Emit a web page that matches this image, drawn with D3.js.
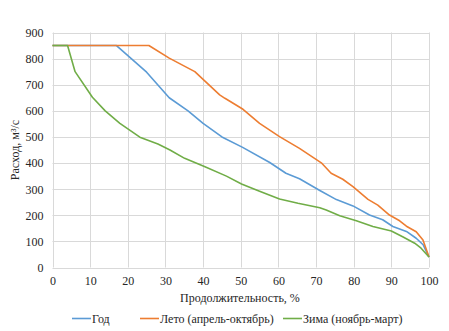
<!DOCTYPE html>
<html><head><meta charset="utf-8">
<script src="https://cdn.jsdelivr.net/npm/d3@7"></script>
<style>body{margin:0;background:#fff}svg{display:block}text{font-family:"Liberation Serif","Times New Roman",serif;fill:#262626}</style>
</head><body><svg id="c" width="449" height="331"></svg>
<script>
const xTicks = [0,10,20,30,40,50,60,70,80,90,100];
const yTicks = [0,100,200,300,400,500,600,700,800,900];
const seriesNames = ["Год","Лето (апрель-октябрь)","Зима (ноябрь-март)"];
const seriesColors = ["#5B9BD5","#ED7D31","#70AD47"];
const yearX = [0,17,25,31,36,40,45,50.5,57.7,62,65.6,71,75.4,79.8,84.2,87.7,90.4,94,96.6,98.5,100];
const yearY = [850,850,748,650,600,552,500,460,402,361,340,295,260,236,201,183,157,138,112,86,40];
const summerX = [0,25.6,31,37.8,44.4,45.8,50.6,55,60.3,65.6,71.4,74,77.1,79.8,83.8,86.4,89.5,92.2,94,96.6,98.4,100];
const summerY = [850,850,802,750,661,648,606,552,501,456,401,361,338,310,261,239,201,179,158,137,105,40];
const winterX = [0,4,6,10.6,14,17.9,23.2,28,31.2,35.1,40.5,46.2,50.2,55,60.3,65.2,71,72.7,76.3,80.7,85.1,90,93,96.2,97.9,100];
const winterY = [850,850,750,652,600,552,499,473,450,418,386,350,320,292,262,246,229,220,198,179,157,140,118,93,74,40];

const svg = d3.select("#c");
const x = d3.scaleLinear().domain([0,100]).range([52.5,429]);
const y = d3.scaleLinear().domain([0,900]).range([267.5,32.5]);

const grid = svg.append("g").attr("stroke","#d9d9d9").attr("stroke-width",1);
grid.selectAll(".h").data(yTicks).join("line")
  .attr("x1",x(0)).attr("x2",x(100)).attr("y1",d=>Math.round(y(d))+0.5).attr("y2",d=>Math.round(y(d))+0.5);
grid.selectAll(".v").data(xTicks).join("line")
  .attr("y1",y(0)).attr("y2",y(900)).attr("x1",d=>Math.round(x(d))+0.5).attr("x2",d=>Math.round(x(d))+0.5);

const yAxis = svg.append("g").attr("transform",`translate(${x(0)},0)`)
  .call(d3.axisLeft(y).tickValues(yTicks).tickSize(0).tickPadding(9));
yAxis.select(".domain").remove();
yAxis.selectAll("text").attr("font-size","12px").style("font-family","'Liberation Serif',serif").attr("fill","#262626");

const xAxis = svg.append("g").attr("transform",`translate(0,${y(0)})`)
  .call(d3.axisBottom(x).tickValues(xTicks).tickSize(0).tickPadding(9));
xAxis.select(".domain").remove();
xAxis.selectAll("text").attr("font-size","12px").style("font-family","'Liberation Serif',serif").attr("fill","#262626");

const data = [d3.zip(yearX,yearY), d3.zip(summerX,summerY), d3.zip(winterX,winterY)];
const line = d3.line().x(d=>x(d[0])).y(d=>y(d[1]));
// draw order: year, summer, winter
svg.append("g").selectAll("path").data(data).join("path")
  .attr("d",line).attr("fill","none").attr("stroke",(d,i)=>seriesColors[i])
  .attr("stroke-width",1.6).attr("stroke-linejoin","round");

svg.append("text").attr("x",240).attr("y",302).attr("text-anchor","middle")
  .attr("font-size","12px").text("Продолжительность, %");
svg.append("text").attr("transform","translate(19,150) rotate(-90)").attr("text-anchor","middle")
  .attr("font-size","12px").text("Расход, м³/с");

const legX = [72,140,283];
const leg = svg.append("g");
seriesNames.forEach((n,i)=>{
  leg.append("line").attr("x1",legX[i]).attr("x2",legX[i]+19).attr("y1",318.5).attr("y2",318.5)
    .attr("stroke",seriesColors[i]).attr("stroke-width",1.6);
  leg.append("text").attr("x",legX[i]+20).attr("y",322.5).attr("font-size","12px").text(n);
});
</script></body></html>
